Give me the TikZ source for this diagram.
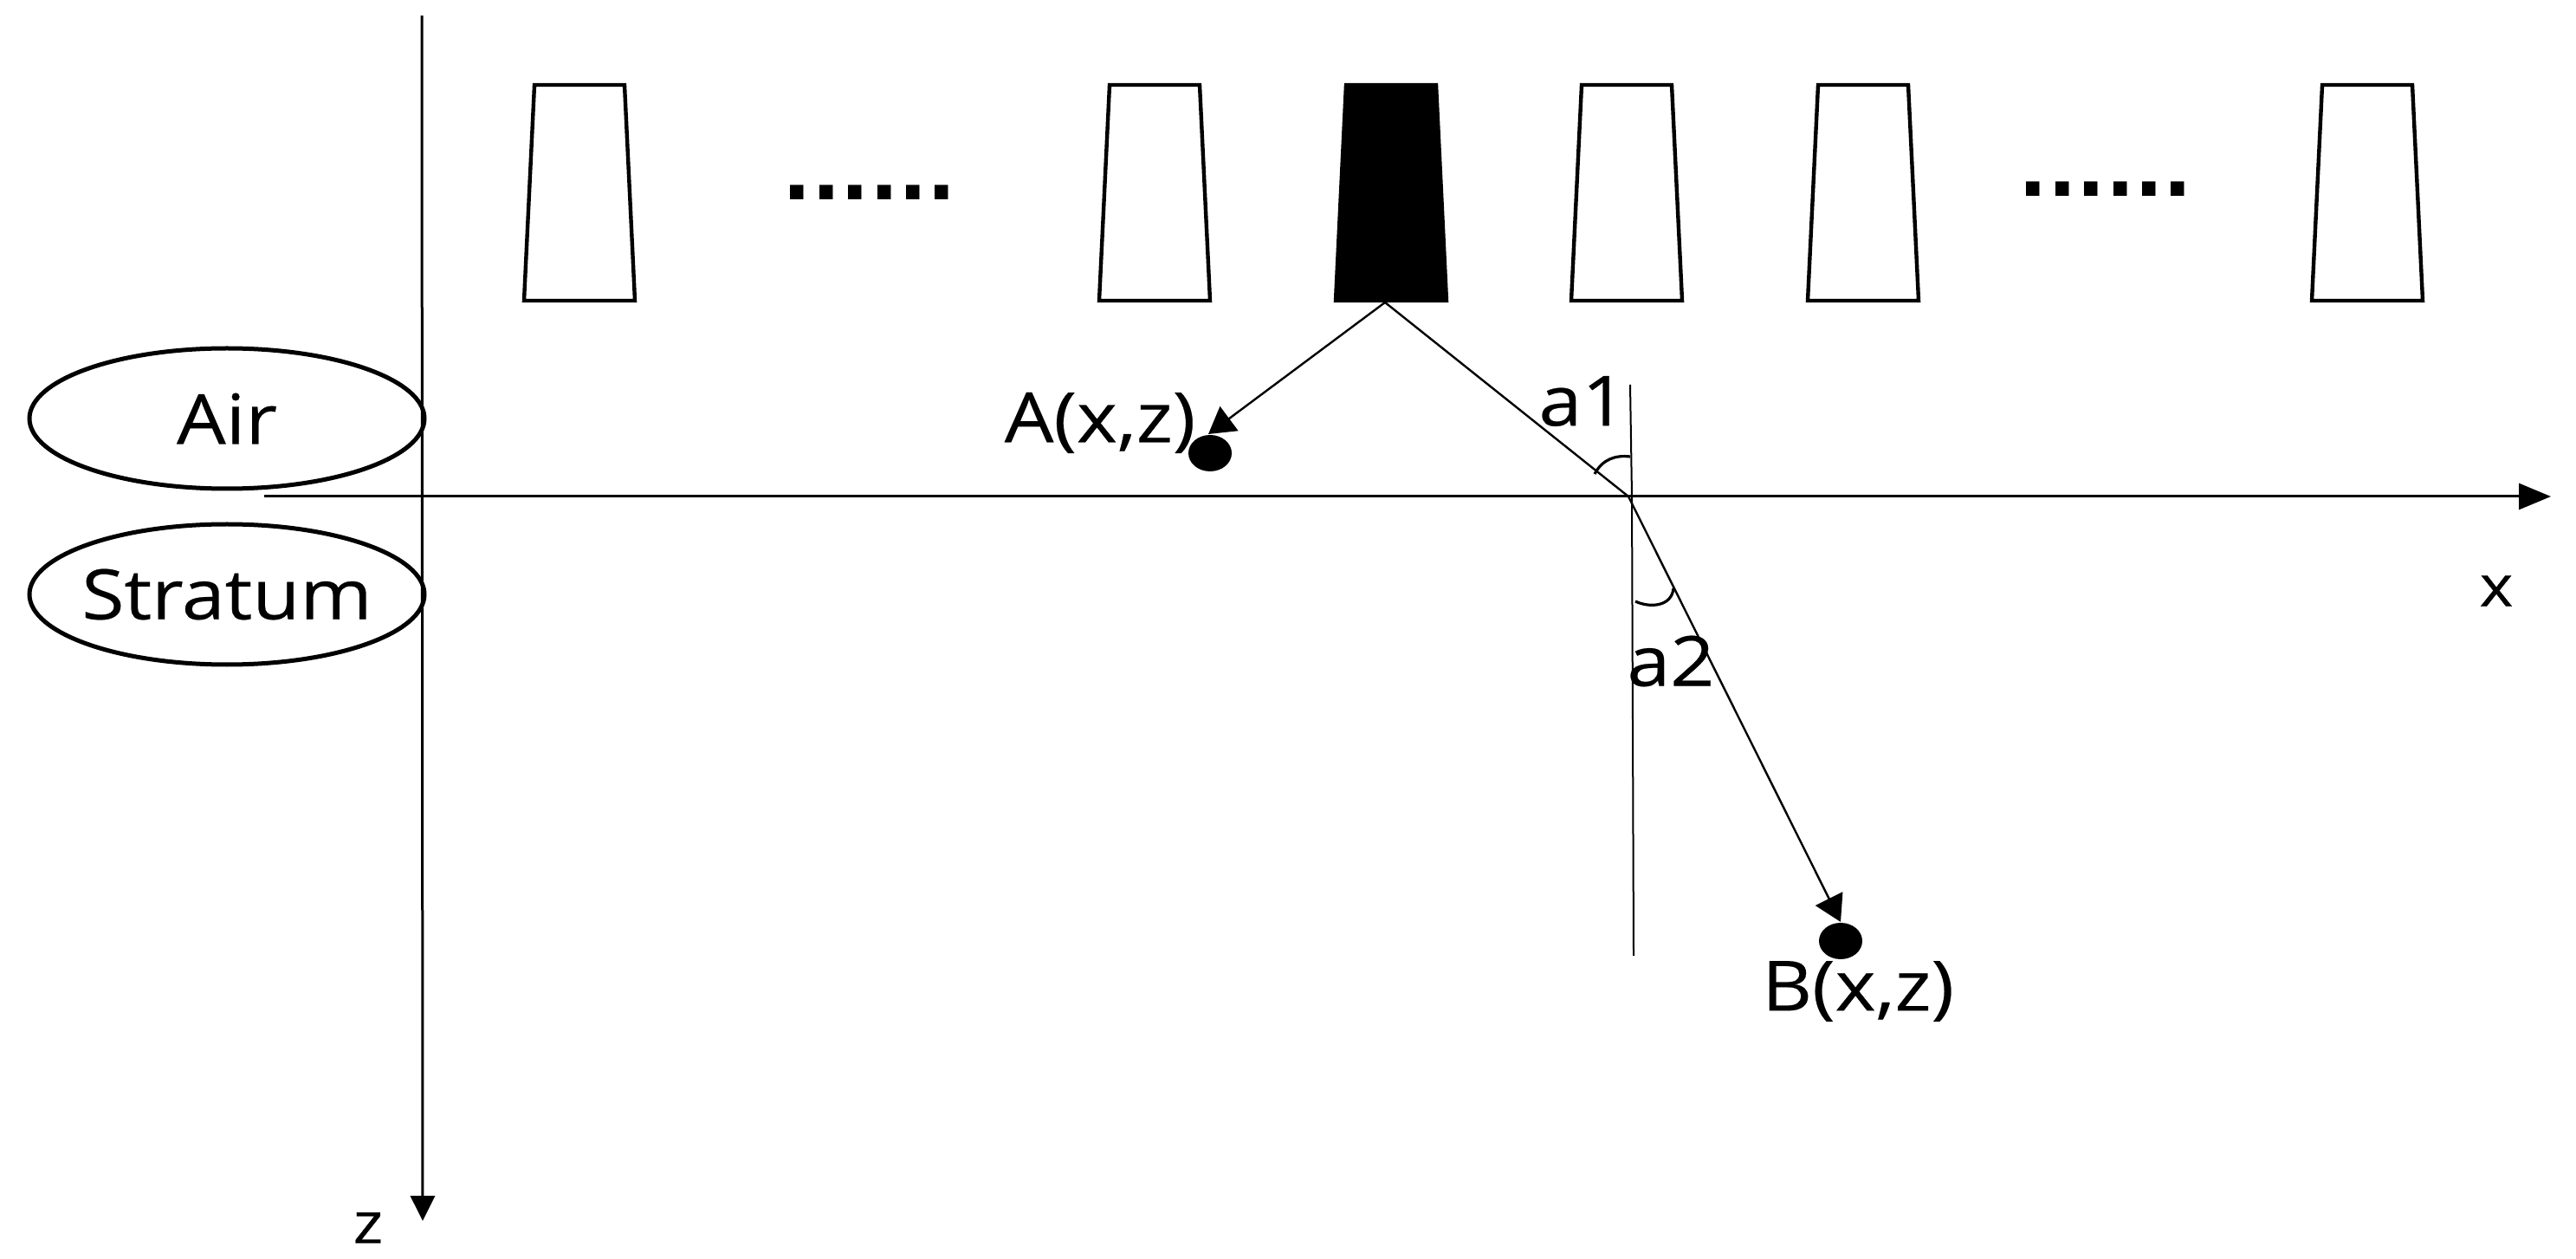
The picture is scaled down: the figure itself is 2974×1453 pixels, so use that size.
\documentclass[tikz,border=0pt]{standalone}
\usepackage{fontspec}
\setmainfont[FakeStretch=1.12,FakeBold=0.3]{Open Sans}
\newfontfamily\dotfont{DejaVu Sans Bold}
\usetikzlibrary{shapes.geometric,arrows.meta}
\tikzset{
  x=0.25pt,y=-0.25pt,
  lab/.style={inner sep=0pt,font=\fontsize{20}{24}\selectfont,text=black},
  axlab/.style={inner sep=0pt,font=\fontsize{16.5}{20}\selectfont,text=black},
  axis/.style={line width=0.75pt},
  axisx/.style={axis,-{Triangle[length=9.25pt,width=7.5pt]}},
  axisz/.style={axis,-{Triangle[length=7.2pt,width=7pt]}},
  ray/.style={line width=0.6pt},
  raya/.style={ray,-{Triangle[length=7.5pt,width=8.7pt]}},
  medium/.style={draw,ellipse,line width=1.25pt,minimum width=114pt,minimum height=40.5pt,lab,inner sep=-20pt},
  dot/.style={fill=black,draw=none,inner sep=0pt,ellipse,minimum width=12.5pt,minimum height=10.5pt},
  thin line/.style={line width=0.5pt},
  angle arc/.style={line width=0.8pt},
  trans/.style={line width=1.1pt,line join=miter},
  dots/.style={inner sep=0pt,anchor=base,text=black,font=\dotfont\fontsize{22}{24}\selectfont}
}
\newcommand{\xdcr}[2][]{\draw[trans,#1] (#2-52,98) -- (#2+52,98) -- (#2+64,347) -- (#2-64,347) -- cycle;}
\begin{document}
\begin{tikzpicture}
\useasboundingbox (0,0) rectangle (2974,1453);
% axes
\coordinate (ztop) at (487,18); \coordinate (ztip) at (488,1409);
\coordinate (xl) at (305,573); \coordinate (xtip) at (2945,573);
% transducers
\xdcr{669}\xdcr{1333}\xdcr[fill=black]{1606}\xdcr{1878}\xdcr{2151}\xdcr{2733}
\node[dots] (d1) at (1004,231) {......};
\node[dots] (d2) at (2431,227) {......};
% media
\node[medium] (air) at (262,483) {Air};
\node[medium] (stratum) at (262,686) {Stratum};
\draw[axisz] (ztop) -- (ztip);
\draw[axisx] (xl) -- (xtip);
% points
\coordinate (src) at (1599,349);
\coordinate (hit) at (1880,573);
\node[dot] (A) at (1397,523) {};
\node[dot] (B) at (2125,1086) {};
\coordinate (Atip) at (1395,501);
\coordinate (Btip) at (2125,1064);
\draw[raya] (src) -- (Atip);
\draw[ray] (src) -- (hit);
\draw[raya] (hit) -- (Btip);
\coordinate (n1) at (1882,444); \coordinate (n2) at (1884,573); \coordinate (n3) at (1886,1103);
\draw[thin line] (n1) -- (n2) -- (n3);
\draw[angle arc] (1841,547) .. controls (1850,530) and (1865,525) .. (1882,527);
\draw[angle arc] (1888,694) .. controls (1905,702) and (1930,700) .. (1932,679);
% labels
\node[lab] (a1) at (1827,463) {a1};
\node[lab] (a2) at (1929,763) {a2};
\node[lab] (Al) at (1270,488) {A(x,z)};
\node[lab] (Bl) at (2145,1144) {B(x,z)};
\node[axlab] (xl2) at (2882,682) {x};
\node[axlab] (zl) at (425,1417) {z};
\end{tikzpicture}
\end{document}
